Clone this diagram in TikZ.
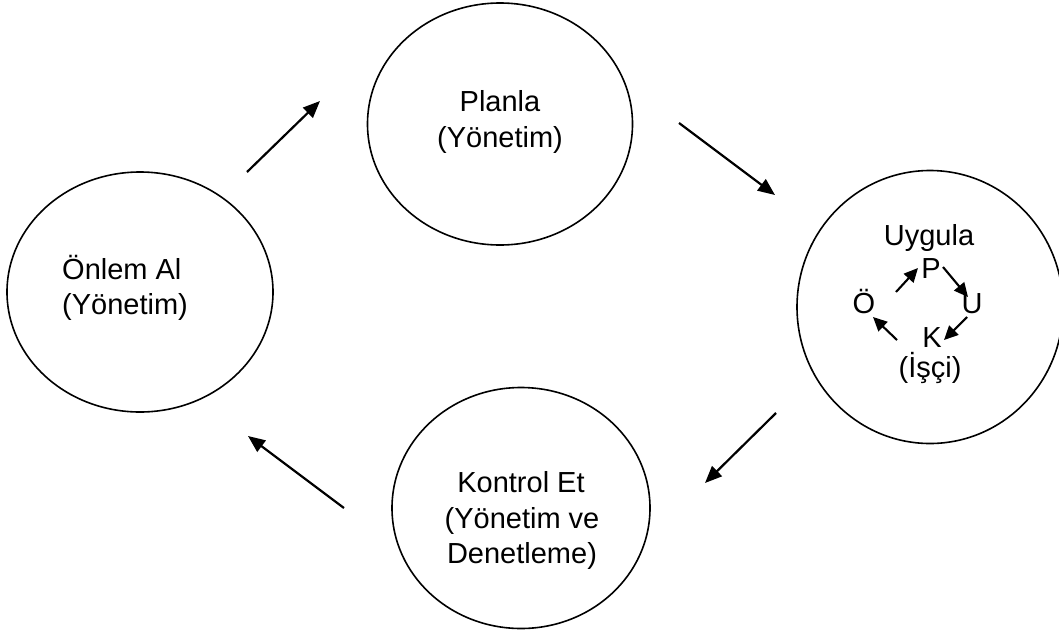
\documentclass[tikz,border=0pt]{standalone}
\usepackage{fontspec}
\setmainfont{Liberation Sans}
\usetikzlibrary{shapes.geometric,arrows.meta}

\tikzset{
  phase/.style={draw, ellipse, line width=1.6pt, inner sep=0pt},
  lbl/.style={inner sep=0pt, anchor=base, font=\fontsize{29}{36}\selectfont},
  lblw/.style={lbl, anchor=base west},
  flow/.style={line width=2.2pt, -{Triangle[length=17pt,width=14pt]}},
  miniflow/.style={line width=2.1pt, -{Triangle[length=14pt,width=13pt]}}
}

\begin{document}
\begin{tikzpicture}[x=1pt, y=-1pt]
\useasboundingbox (0,0) rectangle (1059,635);
\fill[white] (0,0) rectangle (1059,635);

% the four phases of the cycle
\node[phase, minimum width=265pt, minimum height=242pt] (plan) at (500,124) {};
\node[phase, minimum width=266pt, minimum height=240pt] (onlem) at (140,292) {};
\node[phase, minimum width=266pt, minimum height=273pt] (uygula) at (930,307) {};
\node[phase, minimum width=258pt, minimum height=241pt] (kontrol) at (521,508) {};

% labels
\node[lbl] (planA) at (500,111) {Planla};
\node[lbl] (planB) at (500,147) {(Yönetim)};

\node[lblw] (onlemA) at (62,279) {Önlem Al};
\node[lblw] (onlemB) at (62,314) {(Yönetim)};

\node[lbl] (kontA) at (521,492) {Kontrol Et};
\node[lbl] (kontB) at (522,528) {(Yönetim ve};
\node[lbl] (kontC) at (522,563) {Denetleme)};

\node[lbl] (uygA) at (929,245) {Uygula};
\node[lbl] (uygB) at (930,377) {(İşçi)};

% small cycle inside the implementation phase
\node[lbl] (p) at (931,278) {P};
\node[lbl] (u) at (972,313) {U};
\node[lbl] (k) at (932,347) {K};
\node[lbl] (o) at (864,313) {Ö};

\coordinate (m1s) at (896,292); \coordinate (m1e) at (918,268);
\coordinate (m2s) at (943,267); \coordinate (m2e) at (968,297);
\coordinate (m3s) at (967,317); \coordinate (m3e) at (944,340);
\coordinate (m4s) at (897,340); \coordinate (m4e) at (873,317);
\draw[miniflow] (m1s) -- (m1e);
\draw[miniflow] (m2s) -- (m2e);
\draw[miniflow] (m3s) -- (m3e);
\draw[miniflow] (m4s) -- (m4e);

% arrows between the phases
\coordinate (f1s) at (247,172); \coordinate (f1e) at (320,101);
\coordinate (f2s) at (679,123); \coordinate (f2e) at (775,195);
\coordinate (f3s) at (776,413); \coordinate (f3e) at (705,483);
\coordinate (f4s) at (344,508); \coordinate (f4e) at (248,436);
\draw[flow] (f1s) -- (f1e);
\draw[flow] (f2s) -- (f2e);
\draw[flow] (f3s) -- (f3e);
\draw[flow] (f4s) -- (f4e);
\end{tikzpicture}
\end{document}
